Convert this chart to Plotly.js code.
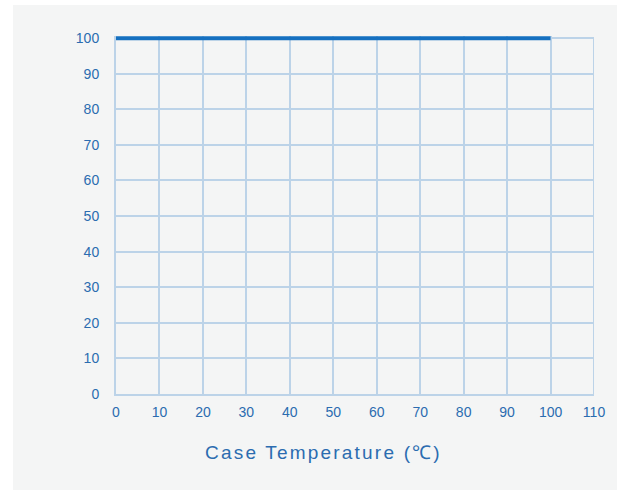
<!DOCTYPE html>
<html>
<head>
<meta charset="utf-8">
<script src="https://cdn.plot.ly/plotly-3.0.1.min.js"></script>
<style>
html,body{margin:0;padding:0;background:#ffffff;}
#chart{position:absolute;left:13px;top:5px;width:604px;height:485px;}
#chart .annotation-text{letter-spacing:2.2px;}
</style>
</head>
<body>
<div id="chart"></div>
<script>
const caseTemperature = [0, 100];
const powerPercent = [100, 100];
const xTicks = [0, 10, 20, 30, 40, 50, 60, 70, 80, 90, 100, 110];
const yTicks = [0, 10, 20, 30, 40, 50, 60, 70, 80, 90, 100];
const xTitle = 'Case Temperature (℃)';

const tickColor = '#2b6cb0';
const gridColor = '#bcd3e8';
const yTop = 100.6; // small headroom so the 100% line is not clipped
const xMax = xTicks[xTicks.length - 1];
const yMax = yTicks[yTicks.length - 1];

Plotly.newPlot('chart', [{
  x: caseTemperature,
  y: powerPercent,
  mode: 'lines',
  line: {color: '#1570c0', width: 4},
  hoverinfo: 'skip'
}], {
  width: 604, height: 485,
  paper_bgcolor: '#f4f5f5',
  plot_bgcolor: '#f4f5f5',
  margin: {l: 103, r: 23, t: 30.86, b: 96},
  showlegend: false,
  font: {family: 'Liberation Sans, Arial, sans-serif'},
  xaxis: {
    range: [0, xMax], tickvals: xTicks, ticktext: xTicks.map(String),
    showgrid: true, gridcolor: gridColor, gridwidth: 2,
    showline: true, linecolor: gridColor, linewidth: 2, mirror: false,
    zeroline: false, ticks: 'outside', ticklen: 4, tickcolor: 'rgba(0,0,0,0)',
    tickfont: {size: 14, color: tickColor}
  },
  yaxis: {
    range: [0, yTop], tickvals: yTicks, ticktext: yTicks.map(String),
    showgrid: true, gridcolor: gridColor, gridwidth: 2,
    showline: true, linecolor: gridColor, linewidth: 2, mirror: false,
    zeroline: false, ticks: 'outside', ticklen: 12, tickcolor: 'rgba(0,0,0,0)',
    tickfont: {size: 14, color: tickColor}
  },
  shapes: [{
    type: 'line', xref: 'x', yref: 'y', x0: xMax, x1: xMax, y0: 0, y1: yMax,
    line: {color: gridColor, width: 2}, layer: 'below'
  }],
  annotations: [{
    text: xTitle, xref: 'paper', yref: 'paper',
    x: (323 - 116) / 478, y: -0.163, xanchor: 'center', yanchor: 'middle',
    showarrow: false, font: {size: 19, color: tickColor}
  }]
}, {displayModeBar: false, staticPlot: true});
</script>
</body>
</html>
